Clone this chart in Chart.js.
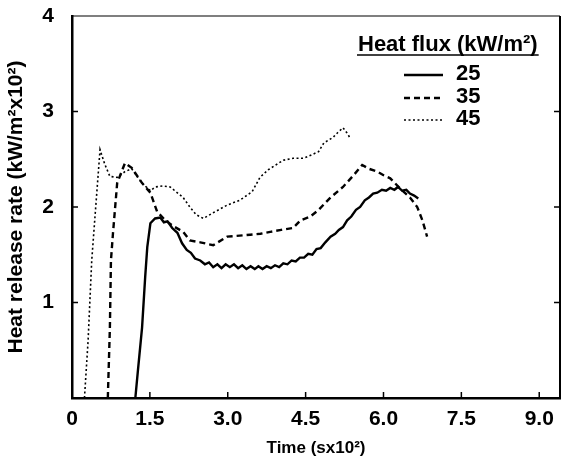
<!DOCTYPE html>
<html>
<head>
<meta charset="utf-8">
<script src="https://cdn.jsdelivr.net/npm/chart.js@4.4.1/dist/chart.umd.min.js"></script>
<style>
  html, body { margin: 0; padding: 0; background: #fff; }
  #wrap { width: 581px; height: 459px; }
</style>
</head>
<body>
<div id="wrap"><canvas id="chart"></canvas></div>
<script>
// heat flux levels (kW/m2)
const fluxLabels = ['25', '35', '45'];

// 25 kW/m2 - solid
const time25 = [1.22, 1.27, 1.35, 1.41, 1.45, 1.51, 1.60, 1.70, 1.77, 1.84, 1.93, 2.03, 2.12, 2.21, 2.29, 2.37, 2.47, 2.56, 2.64, 2.72, 2.80, 2.88, 2.96, 3.04, 3.12, 3.20, 3.28, 3.36, 3.44, 3.52, 3.59, 3.67, 3.75, 3.83, 3.91, 3.99, 4.07, 4.15, 4.23, 4.31, 4.39, 4.47, 4.55, 4.63, 4.71, 4.79, 4.88, 4.98, 5.07, 5.14, 5.22, 5.30, 5.38, 5.47, 5.55, 5.64, 5.72, 5.80, 5.88, 5.97, 6.05, 6.13, 6.21, 6.28, 6.36, 6.44, 6.51, 6.59, 6.67];
const hrr25 = [0, 0.29, 0.74, 1.27, 1.58, 1.83, 1.88, 1.89, 1.84, 1.85, 1.78, 1.73, 1.62, 1.55, 1.52, 1.46, 1.44, 1.40, 1.42, 1.37, 1.40, 1.36, 1.40, 1.37, 1.40, 1.36, 1.39, 1.35, 1.38, 1.35, 1.38, 1.35, 1.38, 1.36, 1.39, 1.37, 1.41, 1.40, 1.44, 1.43, 1.47, 1.47, 1.51, 1.50, 1.56, 1.57, 1.63, 1.69, 1.72, 1.76, 1.79, 1.86, 1.90, 1.97, 2.00, 2.07, 2.10, 2.14, 2.15, 2.18, 2.17, 2.20, 2.18, 2.21, 2.17, 2.18, 2.14, 2.12, 2.09];

// 35 kW/m2 - dashed
const time35 = [0.69, 0.73, 0.75, 0.79, 0.87, 1.02, 1.15, 1.25, 1.35, 1.51, 1.64, 1.80, 1.95, 2.14, 2.27, 2.47, 2.72, 2.99, 3.23, 3.43, 3.63, 3.82, 4.03, 4.26, 4.40, 4.59, 4.75, 4.98, 5.22, 5.42, 5.59, 5.72, 5.88, 6.01, 6.13, 6.31, 6.51, 6.65, 6.75, 6.84];
const hrr35 = [0, 0.74, 1.44, 1.73, 2.25, 2.46, 2.41, 2.33, 2.25, 2.15, 1.95, 1.86, 1.80, 1.74, 1.65, 1.63, 1.60, 1.69, 1.70, 1.71, 1.72, 1.74, 1.76, 1.78, 1.86, 1.90, 1.97, 2.10, 2.21, 2.33, 2.44, 2.40, 2.37, 2.33, 2.30, 2.20, 2.10, 2.00, 1.86, 1.69];

// 45 kW/m2 - dotted
const time45 = [0.24, 0.31, 0.38, 0.45, 0.54, 0.63, 0.73, 0.87, 1.02, 1.15, 1.35, 1.51, 1.60, 1.75, 1.89, 2.14, 2.27, 2.39, 2.53, 2.72, 2.99, 3.23, 3.47, 3.62, 3.78, 4.07, 4.26, 4.46, 4.63, 4.75, 4.85, 5.03, 5.12, 5.22, 5.29, 5.36];
const hrr45 = [0, 0.6, 1.44, 1.95, 2.6, 2.45, 2.32, 2.31, 2.37, 2.40, 2.25, 2.17, 2.21, 2.22, 2.21, 2.10, 2.00, 1.92, 1.88, 1.94, 2.02, 2.07, 2.16, 2.31, 2.39, 2.49, 2.51, 2.51, 2.55, 2.58, 2.67, 2.73, 2.78, 2.83, 2.78, 2.72];

const xTicks = [0, 1.5, 3.0, 4.5, 6.0, 7.5, 9.0];
const yTicks = [0, 1, 2, 3, 4];

const FONT = "'Liberation Sans', Arial, Helvetica, sans-serif";

function pts(xs, ys) {
  return xs.map((x, i) => ({ x: x, y: ys[i] }));
}

const styles = [
  { width: 2.4, dash: [] },
  { width: 2.4, dash: [6, 4] },
  { width: 1.6, dash: [2, 2.5] }
];

// frame, inward ticks and legend block
const framePlugin = {
  id: 'frame',
  afterDraw(chart) {
    const c = chart.ctx;
    const a = chart.chartArea;
    const xs = chart.scales.x;
    const ys = chart.scales.y;
    c.save();
    c.strokeStyle = '#000';
    c.setLineDash([]);
    // top + right
    c.lineWidth = 1.2;
    c.beginPath();
    c.moveTo(a.left, a.top);
    c.lineTo(a.right, a.top);
    c.stroke();
    c.lineWidth = 2;
    c.beginPath();
    c.moveTo(a.right, a.top);
    c.lineTo(a.right, a.bottom);
    c.stroke();
    // inward ticks
    c.lineWidth = 1.5;
    xTicks.forEach(v => {
      const px = xs.getPixelForValue(v);
      c.beginPath();
      c.moveTo(px, a.bottom);
      c.lineTo(px, a.bottom - 6);
      c.stroke();
    });
    yTicks.slice(1, 4).forEach(v => {
      const py = ys.getPixelForValue(v);
      c.beginPath();
      c.moveTo(a.left, py);
      c.lineTo(a.left + 6, py);
      c.moveTo(a.right, py);
      c.lineTo(a.right - 6, py);
      c.stroke();
    });

    // legend
    c.fillStyle = '#000';
    c.font = 'bold 22px ' + FONT;
    c.textBaseline = 'alphabetic';
    c.textAlign = 'left';
    const title = 'Heat flux (kW/m²)';
    c.fillText(title, 358, 51);
    const tw = c.measureText(title).width;
    c.lineWidth = 1.5;
    c.beginPath();
    c.moveTo(357, 55);
    c.lineTo(359 + tw, 55);
    c.stroke();
    const rows = [75, 98, 120];
    fluxLabels.forEach((lab, i) => {
      const st = styles[i];
      c.lineWidth = st.width;
      c.setLineDash(st.dash);
      c.beginPath();
      c.moveTo(404, rows[i]);
      c.lineTo(443, rows[i]);
      c.stroke();
      c.setLineDash([]);
      c.fillText(lab, 456, rows[i] + 5);
    });
    c.restore();
  }
};

new Chart(document.getElementById('chart'), {
  type: 'scatter',
  data: {
    datasets: [
      { label: fluxLabels[0], data: pts(time25, hrr25) },
      { label: fluxLabels[1], data: pts(time35, hrr35) },
      { label: fluxLabels[2], data: pts(time45, hrr45) }
    ].map((d, i) => Object.assign(d, {
      showLine: true,
      borderColor: '#000',
      backgroundColor: '#000',
      borderWidth: styles[i].width,
      borderDash: styles[i].dash,
      pointRadius: 0,
      tension: 0
    }))
  },
  options: {
    responsive: true,
    maintainAspectRatio: false,
    animation: false,
    layout: { padding: { top: 16, right: 21, left: 0, bottom: 0 } },
    plugins: { legend: { display: false }, tooltip: { enabled: false } },
    scales: {
      x: {
        type: 'linear',
        min: 0,
        max: 9.4,
        afterBuildTicks: s => { s.ticks = xTicks.map(v => ({ value: v })); },
        afterFit: s => { s.height = 61; s.paddingLeft = 0; s.paddingRight = 0; },
        grid: { display: false },
        border: { display: true, color: '#000', width: 2.5 },
        ticks: {
          color: '#000',
          font: { family: FONT, size: 21, weight: 'bold' },
          padding: 1,
          maxRotation: 0,
          autoSkip: false,
          callback: v => v === 0 ? '0' : v.toFixed(1)
        },
        title: {
          display: true,
          text: 'Time (sx10²)',
          color: '#000',
          font: { family: FONT, size: 17, weight: 'bold' },
          padding: { top: 0, bottom: 0 }
        }
      },
      y: {
        min: 0,
        max: 4,
        afterBuildTicks: s => { s.ticks = yTicks.map(v => ({ value: v })); },
        afterFit: s => { s.width = 72; s.paddingTop = 0; s.paddingBottom = 0; },
        grid: { display: false },
        border: { display: true, color: '#000', width: 2.5 },
        ticks: {
          color: '#000',
          font: { family: FONT, size: 21, weight: 'bold' },
          padding: 10,
          callback: v => v === 0 ? '' : String(v)
        },
        title: {
          display: true,
          text: 'Heat release rate (kW/m²x10²)',
          color: '#000',
          font: { family: FONT, size: 21, weight: 'bold' },
          padding: { top: 4, bottom: 0 }
        }
      }
    }
  },
  plugins: [framePlugin]
});
</script>
</body>
</html>
